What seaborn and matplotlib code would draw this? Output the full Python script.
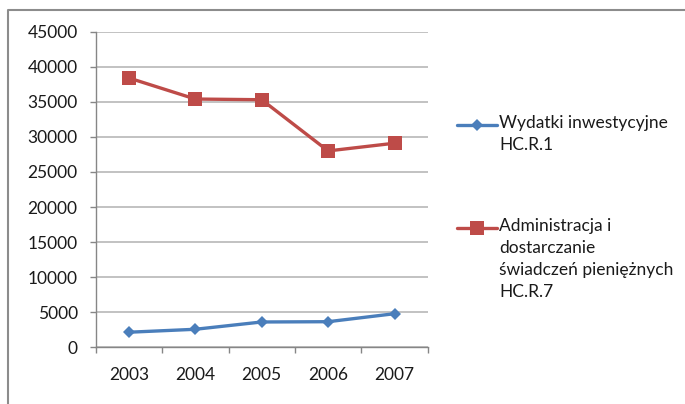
import matplotlib
matplotlib.use('Agg')
import matplotlib.pyplot as plt
import seaborn as sns
import pandas as pd
from matplotlib.lines import Line2D

# ---- data ----
years = ['2003', '2004', '2005', '2006', '2007']
wydatki = [2150, 2570, 3610, 3650, 4790]
administracja = [38400, 35400, 35300, 28000, 29100]
label_wydatki = 'Wydatki inwestycyjne\nHC.R.1'
label_admin = 'Administracja i\ndostarczanie\nświadczeń pieniężnych\nHC.R.7'
y_ticks = [0, 5000, 10000, 15000, 20000, 25000, 30000, 35000, 40000, 45000]

BLUE = '#4A7EBB'
RED = '#BE4B48'
GRID = '#b8b8b8'
AXIS = '#868686'
TEXT = '#1a1a1a'

df_w = pd.DataFrame({'year': years, 'value': wydatki})
df_a = pd.DataFrame({'year': years, 'value': administracja})

sns.set_theme(style='white')
plt.rcParams['font.family'] = ['Lato', 'DejaVu Sans']

W, H = 685, 404
fig = plt.figure(figsize=(W / 100, H / 100), dpi=100)
fig.patch.set_facecolor('white')

x0, x1, ytop, ybot = 95.7, 427.7, 31.7, 347.3
ax = fig.add_axes([x0 / W, 1 - ybot / H, (x1 - x0) / W, (ybot - ytop) / H])

sns.lineplot(data=df_w, x='year', y='value', color=BLUE, linewidth=2.4,
             marker='D', markersize=6.3, markeredgewidth=0, sort=False, ax=ax,
             zorder=3)
sns.lineplot(data=df_a, x='year', y='value', color=RED, linewidth=2.4,
             marker='s', markersize=10, markeredgewidth=0, sort=False, ax=ax,
             zorder=3)

ax.set_xlim(-0.5, 4.5)
ax.set_ylim(0, 45000)
ax.set_yticks(y_ticks)
ax.set_yticklabels([str(v) for v in y_ticks])
ax.set_xticks(range(len(years)))
ax.set_xticklabels(years)
ax.set_xticks([i - 0.5 for i in range(len(years) + 1)], minor=True)
ax.set_xlabel('')
ax.set_ylabel('')

ax.tick_params(axis='x', which='major', bottom=True, length=0, pad=14.5,
               labelsize=12.5, labelcolor=TEXT)
ax.tick_params(axis='x', which='minor', bottom=True, length=4.5, width=1,
               color=AXIS, direction='out')
ax.tick_params(axis='y', which='major', left=True, length=4.5, width=1,
               color=AXIS, direction='out', pad=8.5, labelsize=12.5,
               labelcolor=TEXT)

ax.yaxis.grid(True, color=GRID, linewidth=1.2)
ax.xaxis.grid(False)
ax.set_axisbelow(True)
for s in ['top', 'right']:
    ax.spines[s].set_visible(False)
for s in ['left', 'bottom']:
    ax.spines[s].set_color(AXIS)
    ax.spines[s].set_linewidth(1)

# ---- legend (manual, to match first-line alignment) ----
def fx(px):
    return px / W

def fy(py):
    return 1 - py / H

for ypx, col, mk, ms in [(125, BLUE, 'D', 6.3), (228, RED, 's', 9.5)]:
    fig.add_artist(Line2D([fx(457), fx(477), fx(497)], [fy(ypx)] * 3,
                          transform=fig.transFigure, color=col, linewidth=2.4,
                          marker=mk, markersize=ms, markeredgewidth=0,
                          markevery=[1]))

fig.text(fx(499), fy(115), label_wydatki, fontsize=12.5, color=TEXT,
         va='top', ha='left', linespacing=1.45)
fig.text(fx(499), fy(218), label_admin, fontsize=12.5, color=TEXT,
         va='top', ha='left', linespacing=1.45)

# ---- outer frame (top and left edges visible) ----
fig.add_artist(Line2D([fx(8), fx(8), fx(685)], [fy(404), fy(10), fy(10)],
                      transform=fig.transFigure, color='#8c8c8c', linewidth=1.5))

fig.savefig('out.png', dpi=100, facecolor='white')
